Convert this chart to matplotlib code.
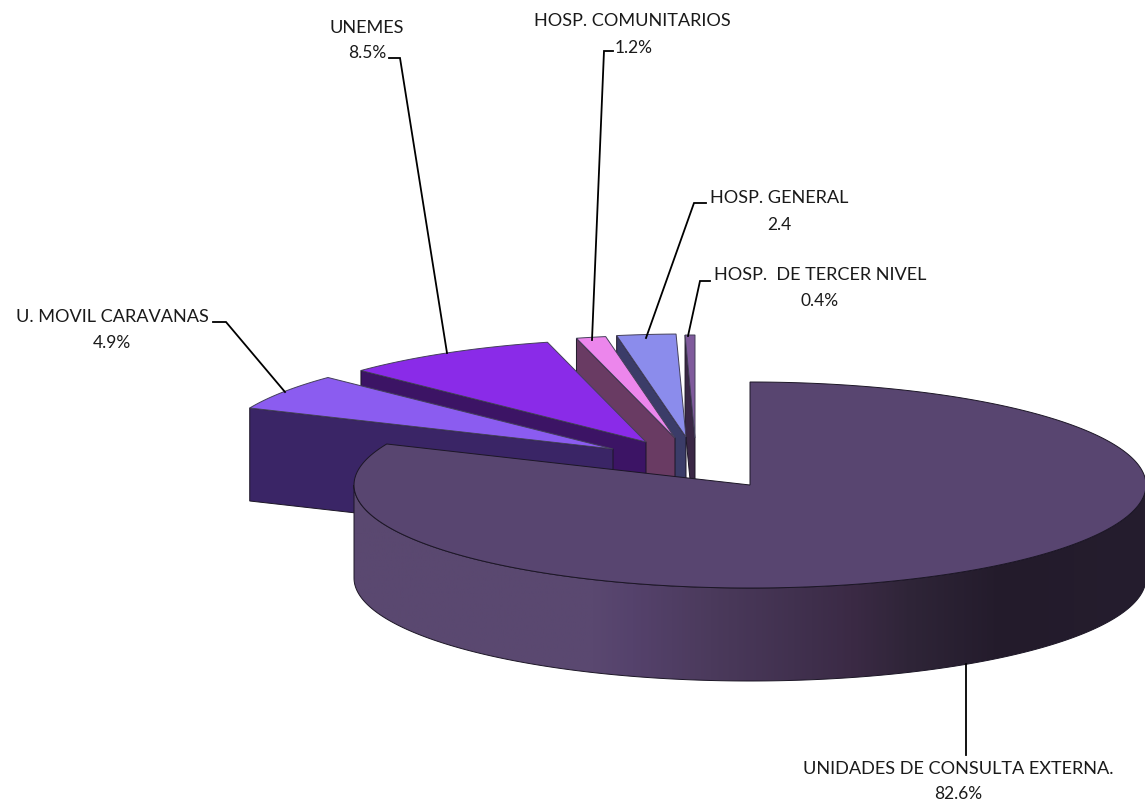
# plot.py
# Exploded 3D style pie chart, drawn by hand in pixel coords

import numpy as np
import matplotlib
matplotlib.use('Agg')
import matplotlib.pyplot as plt
from matplotlib.colors import LinearSegmentedColormap
from matplotlib.patches import Polygon

# ---- Data ----
names = ['UNIDADES DE CONSULTA EXTERNA.', 'U. MOVIL CARAVANAS', 'UNEMES',
         'HOSP. COMUNITARIOS', 'HOSP. GENERAL', 'HOSP.  DE TERCER NIVEL']
values = [82.6, 4.9, 8.5, 1.2, 2.4, 0.4]
value_labels = ['82.6%', '4.9%', '8.5%', '1.2%', '2.4', '0.4%']

# ---- Style ----
top_colors = ['#584570', '#8b5cf0', '#8a2be8', '#ec86ec', '#8b8cec', '#7f5a9c']
side_colors = ['#584570', '#3a2566', '#3c1465', '#693b63', '#3b3c68', '#3a2745']
# how far each slice's tip sits from the pie centre, px
tip_dx = [0, -137, -104, -75, -64, -55]
tip_dy = [0, -36, -43, -47, -48, -47]
# drawing order of the small slices
slice_z = [0, 6, 5, 4, 3, 2]
# label centres (name line, value line)
label_x = [958, 112, 367, 632, 779, 820]
value_x = [958, 112, 367, 634, 779, 820]
name_y = [769, 317, 28, 21, 198, 275]
value_y = [794, 343, 53, 48, 225, 301]
# leader lines
leader_x = [[966, 966], [213, 226, 285], [389, 400, 447], [613, 604, 592],
            [706, 694, 646], [710, 700, 688]]
leader_y = [[664, 755], [322, 322, 392], [58, 58, 353], [51, 51, 340],
            [203, 203, 338], [281, 281, 336]]

CX, CY = 750, 485
RX, RY = 396, 103
DEPTH = 93
EDGE = '#1c1626'

plt.rcParams['font.family'] = ['Lato', 'DejaVu Sans']


def warp(theta):
    """Small perspective correction on the angles left of 12 o'clock"""
    a = 360 - theta
    return 360 - (a + 3.9 * (a / 62.64) ** 4)


def rim(theta, x0=CX, y0=CY):
    t = np.radians(theta)
    return x0 + RX * np.sin(t), y0 - RY * np.cos(t)


fig = plt.figure(figsize=(11.45, 8.05), dpi=100)
ax = fig.add_axes([0, 0, 1, 1])

edges = np.cumsum([0] + values) * 3.6
edges[-1] = 360

# ---- Small slices ----
for i in range(1, len(values)):
    x0, y0 = CX + tip_dx[i], CY + tip_dy[i]
    t0, t1 = warp(edges[i]), warp(edges[i + 1])
    xs, ys = rim(np.linspace(t0, t1, 40), x0, y0)

    # left cut face, pushed down by the depth
    face = [(xs[0], ys[0]), (x0, y0), (x0, y0 + DEPTH), (xs[0], ys[0] + DEPTH)]
    ax.add_patch(Polygon(face, fc=side_colors[i], ec=EDGE, lw=0.7, zorder=slice_z[i]))

    top = np.column_stack([np.r_[x0, xs], np.r_[y0, ys]])
    ax.add_patch(Polygon(top, fc=top_colors[i], ec='#44405a', lw=0.7, zorder=slice_z[i]))

# ---- Big slice ----
t_end = warp(edges[1])
xs, ys = rim(np.linspace(90, 270, 200))
wall = np.column_stack([np.r_[xs, xs[::-1]], np.r_[ys, ys[::-1] + DEPTH]])
wall_patch = Polygon(wall, fc='none', ec=EDGE, lw=0.7, zorder=8)
ax.add_patch(wall_patch)

cmap = LinearSegmentedColormap.from_list('wall', [
    (0.00, '#5a4870'), (0.30, '#5a4870'), (0.35, '#55426c'), (0.45, '#4b3a5c'),
    (0.58, '#3f2f4c'), (0.63, '#3b2a45'), (0.70, '#2f2538'), (0.82, '#231b2b'),
    (1.00, '#251d2e')])
im = ax.imshow(np.linspace(0, 1, 400).reshape(1, -1), cmap=cmap, aspect='auto',
               extent=[CX - RX, CX + RX, CY + RY + DEPTH, CY - RY], zorder=7)
im.set_clip_path(wall_patch)

xs, ys = rim(np.linspace(0, t_end, 400))
top = np.column_stack([np.r_[CX, xs], np.r_[CY, ys]])
ax.add_patch(Polygon(top, fc=top_colors[0], ec=EDGE, lw=0.7, zorder=9))

# ---- Leaders and labels ----
for lx, ly in zip(leader_x, leader_y):
    ax.plot(lx, ly, color='black', lw=1.3, zorder=10, solid_joinstyle='miter')

for i in range(len(names)):
    ax.text(label_x[i], name_y[i], names[i], ha='center', va='center',
            fontsize=13.1, color='#1a1a1a', zorder=11)
    ax.text(value_x[i], value_y[i], value_labels[i], ha='center', va='center',
            fontsize=12.5, color='#1a1a1a', zorder=11)

ax.set_xlim(0, 1145)
ax.set_ylim(805, 0)
ax.axis('off')

fig.savefig('out.png', dpi=100)
